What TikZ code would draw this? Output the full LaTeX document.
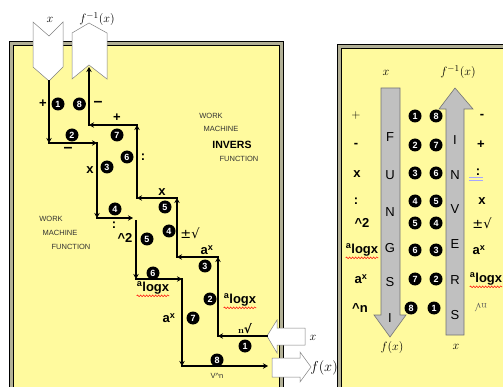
\documentclass[tikz,border=0pt]{standalone}
\usepackage{fontspec}
\setsansfont{Liberation Sans}
\newfontfamily\signfont{DejaVu Sans}
\usetikzlibrary{positioning,arrows.meta,decorations.pathmorphing}
\definecolor{paper}{RGB}{255,250,158}
\definecolor{rim}{RGB}{178,176,150}
\definecolor{barfill}{RGB}{192,192,192}

\begin{document}
\begin{tikzpicture}[x=1pt,y=-1pt,
  rimbox/.style={draw=black, line width=0.6pt, fill=rim},
  sheet/.style={draw=black, line width=0.5pt, fill=paper},
  chev/.style={draw=gray, fill=white, line width=0.5pt},
  bar/.style={draw=black!55, fill=barfill, line width=0.6pt},
  flow/.style={-{Stealth[length=5pt,width=5.5pt]}, line width=2pt, line cap=rect},
  num/.style={circle, fill=black, text=white, inner sep=0pt, minimum size=13pt, font=\sffamily\bfseries\fontsize{9}{9}\selectfont},
  op/.style={inner sep=0pt, font=\sffamily\bfseries\fontsize{13}{13}\selectfont},
  sign/.style={inner sep=0pt, font=\signfont\fontsize{13}{13}\selectfont},
  tag/.style={inner sep=0pt, font=\sffamily\fontsize{7.5}{8}\selectfont, text=black!80},
  letter/.style={inner sep=0pt, font=\sffamily\fontsize{13}{13}\selectfont},
  var/.style={inner sep=0pt, font=\fontsize{13}{13}\selectfont},
  squiggle/.style={draw=red, line width=0.5pt, decorate, decoration={snake, amplitude=0.8pt, segment length=3pt}}
]
\useasboundingbox (0,0) rectangle (503,387);

\draw[rimbox] (9,41) rectangle (283,395);
\draw[sheet] (13,45) rectangle (279,395);
\draw[rimbox] (337,44) rectangle (515,395);
\draw[sheet] (341,48) rectangle (515,395);

\draw[chev] (33,22) -- (49,36) -- (63,22) -- (63,67) -- (49,81) -- (33,67) -- cycle;
\draw[chev] (72,33) -- (89,23) -- (107,33) -- (107,79) -- (89,65) -- (72,79) -- cycle;
\node[var] (topx) at (50,20) {$x$};
\node[var] (topf) at (97,19) {$f^{-1}(x)$};

\draw[chev] (267,336) -- (277,320) -- (277,328) -- (305,328) -- (305,345) -- (277,345) -- (277,353) -- cycle;
\draw[chev] (272,358) -- (300,358) -- (300,352) -- (311,367) -- (300,382) -- (300,377) -- (272,377) -- cycle;
\node[var] (inx) at (313,338) {$x$};
\node[var, font=\fontsize{15}{15}\selectfont] (outf) at (324,368) {$f(x)$};

\coordinate (f0) at (49,81);
\coordinate (f1) at (49,143);
\coordinate (f2) at (97,143);
\coordinate (f3) at (97,218);
\coordinate (f4) at (133,218);
\coordinate (f5) at (136,221);
\coordinate (f6) at (136,279);
\coordinate (f7) at (182,279);
\coordinate (f8) at (182,366);
\coordinate (f9) at (268,366);

\coordinate (i0) at (267,336);
\coordinate (i1) at (218,336);
\coordinate (i2) at (218,257);
\coordinate (i3) at (177,257);
\coordinate (i4) at (177,198);
\coordinate (i5) at (137,198);
\coordinate (i6) at (137,125);
\coordinate (i7) at (89,125);
\coordinate (i8) at (89,67);

\draw[flow] (f0) -- (f1);
\draw[flow] (f1) -- (f2);
\draw[flow] (f2) -- (f3);
\draw[flow] (f3) -- (f4);
\draw[flow] (f5) -- (f6);
\draw[flow] (f6) -- (f7);
\draw[flow] (f7) -- (f8);
\draw[flow] (f8) -- (f9);

\draw[flow] (i0) -- (i1);
\draw[flow] (i1) -- (i2);
\draw[flow] (i2) -- (i3);
\draw[flow] (i3) -- (i4);
\draw[flow] (i4) -- (i5);
\draw[flow] (i5) -- (i6);
\draw[flow] (i6) -- (i7);
\draw[flow] (i7) -- (i8);

\node[op] (pl1) at (43,104) {+};
\node[num] (a1) at (58,104) {1};
\node[num, right=8pt of a1] (b8) {8};
\node[op, font=\sffamily\bfseries\fontsize{16}{16}\selectfont] (mi1) at (98,104) {–};
\node[num] (a2) at (72,135) {2};
\node[op, font=\sffamily\bfseries\fontsize{16}{16}\selectfont] (mi2) at (68,150) {–};
\node[op] (pl2) at (117,118) {+};
\node[num] (b7) at (117,135) {7};
\node[num] (b6) at (127,157) {6};
\node[op] (dv1) at (143,157) {:};
\node[op] (ml1) at (90,170) {x};
\node[num] (a3) at (107,167) {3};
\node[num] (a4) at (115,209) {4};
\node[op] (dv2) at (114,225) {:};
\node[op] (ml2) at (162,192) {x};
\node[num] (b5) at (165,207) {5};
\node[op] (sq1) at (125,238) {\textasciicircum 2};
\node[num] (a5) at (147,239) {5};
\node[num] (b4) at (169,231) {4};
\node[sign] (rt1) at (190,233) {±√};
\node[op] (ex1) at (207,250) {a\textsuperscript{x}};
\node[num] (b3) at (205,266) {3};
\node[num] (a6) at (153,273) {6};
\node[op] (lg1) at (153,288) {\textsuperscript{a}logx};
\node[num] (b2) at (210,299) {2};
\node[op] (lg2) at (240,300) {\textsuperscript{a}logx};
\node[op] (ex2) at (169,318) {a\textsuperscript{x}};
\node[num] (a7) at (193,318) {7};
\node[inner sep=0pt, font=\fontsize{9}{9}\selectfont\bfseries] (rn1) at (245,329) {n{\signfont\fontsize{12}{12}\selectfont √}};
\node[num] (b1) at (245,346) {1};
\node[num] (a8) at (217,360) {8};
\node[tag] (pw1) at (217,376) {V\textasciicircum n};
\draw[squiggle] ([yshift=-1.5pt]lg1.south west) -- ([yshift=-1.5pt]lg1.south east);
\draw[squiggle] ([yshift=-1.5pt]lg2.south west) -- ([yshift=-1.5pt]lg2.south east);

\node[tag] (wk1) at (51,219) {WORK};
\node[tag] (mc1) at (60,233) {MACHINE};
\node[tag] (fn1) at (71,247) {FUNCTION};
\node[tag] (wk2) at (211,116) {WORK};
\node[tag] (mc2) at (221,129) {MACHINE};
\node[inner sep=0pt, font=\sffamily\bfseries\fontsize{10.5}{11}\selectfont] (iv2) at (232,145) {INVERS};
\node[tag] (fn2) at (239,159) {FUNCTION};

\draw[bar] (381,88) -- (400,88) -- (400,315) -- (406,315) -- (390,337) -- (374,315) -- (381,315) -- cycle;
\draw[bar] (446,335) -- (446,109) -- (439,109) -- (455,88) -- (473,109) -- (464,109) -- (464,335) -- cycle;
\node[var] (rx) at (386,73) {$x$};
\node[var] (rf) at (458,72) {$f^{-1}(x)$};
\node[var] (bf) at (392,347) {$f(x)$};
\node[var] (bx) at (456,347) {$x$};

\node[letter] (lf) at (390,137) {F};
\node[letter] (lu) at (390,175) {U};
\node[letter] (ln) at (390,212) {N};
\node[letter] (lg) at (390,248) {G};
\node[letter] (ls) at (390,282) {S};
\node[letter] (li) at (390,318) {I};
\node[letter] (vi) at (455,140) {I};
\node[letter] (vn) at (455,175) {N};
\node[letter] (vv) at (455,209) {V};
\node[letter] (ve) at (455,244) {E};
\node[letter] (vr) at (455,280) {R};
\node[letter] (vs) at (455,315) {S};

\node[num] (c1) at (415,116) {1};
\node[num] (c2) at (415,145) {2};
\node[num] (c3) at (415,173) {3};
\node[num] (c4) at (415,201) {4};
\node[num] (c5) at (415,223) {5};
\node[num] (c6) at (415,250) {6};
\node[num] (c7) at (415,279) {7};
\node[num] (c8) at (411,308) {8};
\node[num] (d8) at (436,116) {8};
\node[num] (d7) at (436,145) {7};
\node[num] (d6) at (436,173) {6};
\node[num] (d5) at (436,201) {5};
\node[num] (d4) at (436,223) {4};
\node[num] (d3) at (436,250) {3};
\node[num] (d2) at (436,279) {2};
\node[num] (d1) at (434,308) {1};

\node[var] (rp1) at (356,116) {$+$};
\node[op] (rm1) at (356,145) {-};
\node[op] (rx1) at (357,174) {x};
\node[op] (rd1) at (356,201) {:};
\node[op] (rs1) at (362,223) {\textasciicircum 2};
\node[op] (rl1) at (362,250) {\textsuperscript{a}logx};
\node[op] (re1) at (361,279) {a\textsuperscript{x}};
\node[op] (rn2) at (360,308) {\textasciicircum n};
\draw[squiggle] ([yshift=-1.5pt]rl1.south west) -- ([yshift=-1.5pt]rl1.south east);

\node[op] (sm1) at (482,116) {-};
\node[op] (sp1) at (481,145) {+};
\node[op] (sd1) at (478,172) {:};
\node[op] (sx1) at (482,201) {x};
\node[sign] (sr1) at (482,223) {±√};
\node[op] (se1) at (479,250) {a\textsuperscript{x}};
\node[op] (sl1) at (486,279) {\textsuperscript{a}logx};
\node[inner sep=0pt, rotate=180, text=black!65, font=\fontsize{10}{10}\selectfont] (sn1) at (481,307) {n{\signfont √}};
\draw[squiggle] ([yshift=-1.5pt]sl1.south west) -- ([yshift=-1.5pt]sl1.south east);
\draw[blue!35, line width=0.6pt] (469,177.5) -- (483,177.5) (469,180) -- (483,180);

\end{tikzpicture}
\end{document}
